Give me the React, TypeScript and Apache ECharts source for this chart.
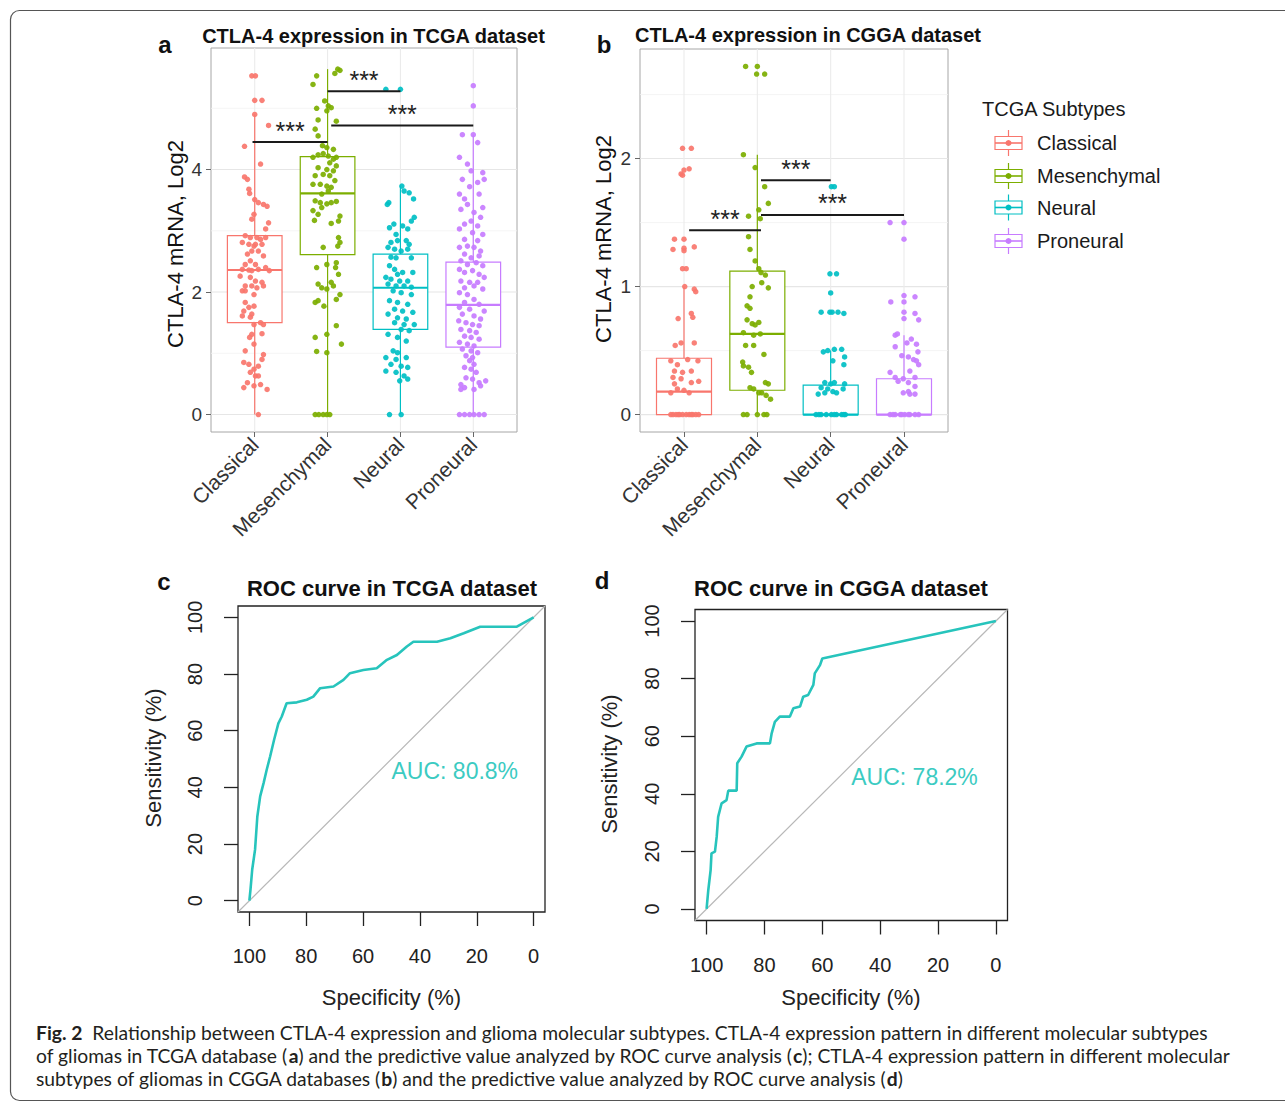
import React, { useEffect, useRef } from "react";
import * as echarts from "echarts";

const FONT = "'Liberation Sans', Arial, sans-serif";
const CAP_FONT = "Lato, 'Open Sans', sans-serif";

const subtypes = ["Classical", "Mesenchymal", "Neural", "Proneural"];
const subtypeColors = ["#F8766D", "#7CAE00", "#00BFC4", "#C77CFF"];
const catPositions = [1, 2, 3, 4];

// boxplot stats: [lower whisker, Q1, median, Q3, upper whisker]
const tcgaBoxStats = [
  [0, 1.5, 2.36, 2.92, 4.9],
  [0, 2.61, 3.61, 4.21, 5.64],
  [0, 1.39, 2.07, 2.62, 3.74],
  [0, 1.1, 1.79, 2.49, 4.57],
];
const cggaBoxStats = [
  [0, 0, 0.18, 0.44, 1.0],
  [0, 0.19, 0.63, 1.12, 2.03],
  [0, 0, 0, 0.23, 0.5],
  [0, 0, 0, 0.28, 0.62],
];

// jittered points: [jitter offset (category units), value]
const tcgaClassical = [
  [-0.04, 5.53], [0.01, 5.53], [0, 5.13], [0.1, 5.13], [0, 4.9], [0.19, 4.72], [-0.14, 4.38], [0.08, 4.09],
  [-0.14, 3.88], [-0.1, 3.84], [-0.08, 3.68], [-0.07, 3.61], [0, 3.51], [0.05, 3.46], [0.12, 3.43], [0.17, 3.4],
  [-0.01, 3.27], [-0.04, 3.19], [0.19, 3.13], [0.15, 3.03], [-0.13, 2.92], [-0.06, 2.89], [0.03, 2.89], [0.08, 2.86], [0.15, 2.89],
  [-0.17, 2.81], [-0.08, 2.78], [-0.01, 2.75], [0.01, 2.78], [0.1, 2.78], [-0.04, 2.67], [-0.1, 2.62], [0.05, 2.67],
  [-0.06, 2.51], [0.12, 2.59], [-0.13, 2.45], [0.01, 2.45], [-0.17, 2.37], [-0.08, 2.36], [-0.04, 2.35], [0.05, 2.37], [0.15, 2.4], [0.2, 2.35],
  [-0.2, 2.26], [-0.06, 2.24], [0.01, 2.18], [0.1, 2.16], [0.12, 2.1], [-0.13, 2.1], [-0.04, 2.1], [0.03, 2.07], [-0.17, 2.02], [-0.13, 2.02], [-0.01, 1.96],
  [-0.13, 1.83], [-0.08, 1.75], [-0.01, 1.77], [-0.15, 1.69], [-0.04, 1.64], [-0.17, 1.61], [-0.06, 1.59],
  [0.08, 1.5], [0.12, 1.47], [-0.01, 1.47], [-0.04, 1.31], [0.1, 1.32], [-0.07, 1.26], [-0.01, 1.15], [-0.13, 1.04], [0.12, 0.98], [0.1, 0.9],
  [-0.15, 0.85], [-0.08, 0.82], [0.05, 0.79], [-0.01, 0.74], [-0.06, 0.69], [0.01, 0.63], [0.05, 0.63], [-0.1, 0.52], [-0.15, 0.44], [-0.01, 0.47], [0.08, 0.49], [0.17, 0.41], [0.05, 0],
];
const tcgaMesenchymal = [
  [0.14, 5.64], [0.17, 5.62], [0.1, 5.57], [-0.15, 5.53], [-0.2, 5.39], [-0.04, 5.12], [0.01, 5.04], [0.05, 5.01], [-0.15, 5.0], [-0.01, 4.96],
  [-0.13, 4.81], [0.12, 4.79], [-0.17, 4.66], [-0.13, 4.55], [-0.07, 4.39], [-0.01, 4.36], [0.08, 4.33], [-0.2, 4.2], [-0.13, 4.24], [-0.06, 4.26], [0.01, 4.22], [0.08, 4.17], [0.12, 4.2],
  [0.03, 4.11], [0.12, 4.06], [-0.13, 4.03], [-0.01, 4.0], [0.08, 3.98], [-0.06, 3.92], [0.03, 3.9], [-0.17, 3.9], [-0.2, 3.76], [-0.1, 3.76], [-0.01, 3.73], [0.05, 3.71], [0.1, 3.82], [0.01, 3.65], [-0.08, 3.6],
  [-0.17, 3.49], [-0.1, 3.46], [-0.01, 3.44], [0.05, 3.46], [0.12, 3.48], [-0.08, 3.38], [-0.2, 3.33], [-0.13, 3.27], [-0.18, 3.17], [0.15, 3.16], [0.17, 3.24], [0.05, 3.12],
  [0.15, 2.89], [0.17, 2.81], [-0.06, 2.73], [0.14, 2.75], [0.12, 2.48], [0.11, 2.4], [0.15, 2.29], [-0.15, 2.4], [-0.01, 2.45],
  [-0.13, 2.13], [-0.08, 2.07], [-0.01, 2.05], [0.08, 2.1], [0.05, 2.16], [0.17, 1.96], [0.12, 1.88], [-0.17, 1.83], [-0.13, 1.86], [-0.05, 1.77],
  [0.12, 1.45], [-0.01, 1.31], [-0.17, 1.26], [0.19, 1.15], [-0.15, 1.03], [-0.01, 1.01],
  [-0.17, 0], [-0.12, 0], [-0.06, 0], [-0.01, 0], [0.03, 0],
];
const tcgaNeural = [
  [-0.2, 5.31], [0, 5.31], [0.02, 3.73], [0.05, 3.65], [0.12, 3.62], [0.18, 3.52], [-0.16, 3.46], [-0.18, 3.43],
  [0.19, 3.22], [0.15, 3.16], [0.03, 3.08], [-0.09, 3.11], [-0.15, 3.05], [0.1, 3.03], [-0.06, 2.94], [-0.13, 2.81], [-0.04, 2.84], [0.08, 2.84], [0.12, 2.78],
  [-0.17, 2.73], [-0.08, 2.7], [0.01, 2.67], [0.1, 2.7], [-0.13, 2.57], [-0.06, 2.56], [0.15, 2.56],
  [-0.15, 2.43], [-0.08, 2.37], [-0.04, 2.29], [0.03, 2.32], [0.17, 2.32], [-0.2, 2.24], [-0.13, 2.21], [-0.01, 2.18], [0.1, 2.18], [-0.17, 2.13], [-0.06, 2.1], [0.05, 2.1], [0.15, 2.08], [-0.1, 2.02], [0.01, 1.99], [0.15, 1.96],
  [-0.15, 1.86], [-0.04, 1.83], [0.1, 1.8], [-0.08, 1.72], [0.03, 1.69], [0.17, 1.67], [-0.17, 1.64], [-0.04, 1.58], [0.08, 1.56], [-0.08, 1.5], [0.05, 1.47], [0.19, 1.47], [0.01, 1.39], [0.12, 1.37], [-0.17, 1.31], [-0.04, 1.26], [0.08, 1.2],
  [-0.1, 1.04], [-0.04, 1.01], [-0.2, 0.93], [-0.06, 0.9], [0.08, 0.93], [-0.13, 0.82], [0.01, 0.79], [0.1, 0.77], [-0.2, 0.71], [-0.06, 0.69], [0.05, 0.63], [0.1, 0.58], [-0.01, 0.55],
  [-0.15, 0], [0.01, 0],
];
const tcgaProneural = [
  [0, 5.37], [0, 5.04], [-0.15, 4.57], [0, 4.57], [0.06, 4.44], [-0.19, 4.2], [-0.08, 4.09], [-0.03, 3.98], [0.13, 3.95], [-0.15, 3.84], [0.15, 3.84], [0.06, 3.79], [-0.05, 3.72],
  [-0.19, 3.6], [-0.12, 3.52], [0.08, 3.6], [-0.08, 3.43], [-0.17, 3.35], [0.13, 3.38], [0.01, 3.3], [0.1, 3.22], [-0.03, 3.16], [-0.12, 3.11], [0.06, 3.08], [-0.19, 3.03],
  [-0.01, 2.97], [0.13, 2.94], [-0.12, 2.86], [0.06, 2.84], [-0.08, 2.75], [-0.19, 2.73], [0.01, 2.73], [0.1, 2.67], [-0.12, 2.62], [-0.03, 2.56], [0.08, 2.59], [-0.17, 2.51],
  [-0.08, 2.45], [0.04, 2.48], [0.13, 2.43], [-0.19, 2.37], [-0.12, 2.32], [-0.01, 2.35], [0.08, 2.29], [0.15, 2.24], [-0.17, 2.18], [-0.05, 2.16], [0.06, 2.16], [-0.12, 2.07],
  [0.01, 2.1], [0.13, 2.05], [-0.19, 1.99], [-0.08, 1.96], [0.01, 1.88], [-0.12, 1.83], [0.08, 1.8], [-0.19, 1.75], [-0.05, 1.72], [0.15, 1.69], [-0.15, 1.64], [0.01, 1.61],
  [0.1, 1.56], [-0.2, 1.53], [-0.1, 1.5], [-0.01, 1.47], [0.08, 1.45], [-0.17, 1.39], [-0.05, 1.37], [0.04, 1.34], [-0.12, 1.28], [-0.03, 1.26], [0.08, 1.23], [-0.19, 1.18],
  [-0.08, 1.15], [0.01, 1.12], [-0.15, 1.07], [-0.03, 1.04], [0.06, 1.01], [-0.1, 0.96], [-0.01, 0.93], [-0.05, 0.88], [0.01, 0.82], [-0.12, 0.77], [-0.03, 0.74], [0.04, 0.69],
  [-0.1, 0.6], [-0.01, 0.58], [-0.17, 0.49], [-0.12, 0.44], [0.08, 0.52], [0.17, 0.55], [0.1, 0.47], [0.01, 0.41], [-0.17, 0.41],
  [-0.19, 0], [-0.12, 0], [-0.05, 0], [0.01, 0], [0.08, 0], [0.15, 0],
];

const cggaClassical = [
  [-0.02, 2.08], [0.1, 2.08], [-0.04, 1.88], [0, 1.91], [0.07, 1.92], [-0.02, 1.87], [-0.13, 1.37], [0, 1.37], [-0.15, 1.29], [0, 1.3], [0.14, 1.31], [0, 1.28],
  [-0.02, 1.14], [0.03, 1.14], [0.01, 1.0], [0.14, 0.98], [0.16, 0.96], [-0.08, 0.75], [0.1, 0.79], [0.12, 0.76], [-0.12, 0.54], [-0.04, 0.56], [0.14, 0.56],
  [-0.18, 0.42], [-0.09, 0.39], [0.05, 0.43], [0.19, 0.42], [-0.13, 0.34], [-0.02, 0.33], [0.1, 0.34], [-0.15, 0.29], [-0.04, 0.28], [0.1, 0.25], [0.2, 0.26],
  [-0.13, 0.24], [-0.09, 0.2], [0, 0.19], [0.07, 0.17], [-0.18, 0.17],
  [-0.15, 0], [-0.11, 0], [-0.06, 0], [-0.02, 0], [0.03, 0], [0.07, 0], [0.12, 0], [0.16, 0], [0.2, 0], [-0.18, 0], [-0.08, 0], [0.1, 0],
];
const cggaMesenchymal = [
  [-0.16, 2.72], [0, 2.72], [-0.01, 2.66], [0.1, 2.66], [-0.19, 2.03], [-0.03, 1.93], [0.1, 1.78], [0.15, 1.65], [-0.12, 1.55], [0.02, 1.6], [0.04, 1.53],
  [-0.12, 1.39], [-0.1, 1.29], [-0.03, 1.2], [0.02, 1.14], [0.05, 1.11], [0.11, 1.09], [0.06, 1.03], [0.15, 0.99], [-0.07, 1.0],
  [-0.1, 0.92], [-0.14, 0.85], [-0.1, 0.83], [-0.14, 0.74], [-0.07, 0.71], [0.02, 0.72], [-0.03, 0.7], [-0.19, 0.64], [-0.05, 0.62], [0.04, 0.63],
  [-0.16, 0.54], [-0.05, 0.54], [0.09, 0.47], [-0.2, 0.41], [-0.19, 0.38], [-0.12, 0.37], [-0.08, 0.33],
  [-0.1, 0.21], [-0.05, 0.2], [0.11, 0.25], [0.15, 0.24], [0.06, 0.17], [0.02, 0.17], [0.18, 0.12], [0.12, 0.15],
  [-0.19, 0], [-0.14, 0], [0, 0], [0.09, 0], [0.13, 0],
];
const cggaNeural = [
  [0.01, 1.78], [0.05, 1.78], [-0.01, 1.1], [0.08, 1.1], [0, 0.95], [-0.13, 0.8], [-0.01, 0.8], [0.02, 0.8], [0.1, 0.8], [0.18, 0.79],
  [-0.1, 0.49], [-0.04, 0.5], [0.05, 0.51], [0.15, 0.51], [0.03, 0.42], [0.19, 0.45], [0.18, 0.39],
  [-0.08, 0.25], [0, 0.24], [0.05, 0.25], [0.19, 0.24], [-0.13, 0.21], [-0.04, 0.2], [0.03, 0.18], [-0.17, 0.16], [-0.08, 0.17], [0.17, 0.2], [0.08, 0.17],
  [-0.2, 0], [-0.13, 0], [-0.06, 0], [0.01, 0], [0.08, 0], [0.15, 0], [0.2, 0], [-0.16, 0], [0.05, 0], [0.18, 0],
];
const cggaProneural = [
  [-0.19, 1.5], [0, 1.5], [0, 1.37], [-0.18, 0.88], [0, 0.93], [0.15, 0.92], [0, 0.88], [0, 0.8], [0.15, 0.79], [0, 0.75], [0.2, 0.74],
  [-0.12, 0.62], [-0.09, 0.63], [0.04, 0.56], [0.1, 0.59], [-0.12, 0.53], [0.17, 0.55], [-0.03, 0.46], [0.06, 0.45], [0.13, 0.43], [0.17, 0.42], [0.2, 0.39], [0.19, 0.49],
  [0.08, 0.34], [-0.19, 0.33], [-0.12, 0.29], [-0.01, 0.28], [-0.08, 0.26], [0.15, 0.29], [0.06, 0.25], [0.15, 0.22], [-0.01, 0.17], [0.08, 0.16], [0.15, 0.16], [0.06, 0.18],
  [-0.19, 0], [-0.12, 0], [-0.05, 0], [0.01, 0], [0.08, 0], [0.15, 0], [0.2, 0], [-0.15, 0], [0.06, 0], [-0.03, 0],
];

const tcgaPoints = [tcgaClassical, tcgaMesenchymal, tcgaNeural, tcgaProneural];
const cggaPoints = [cggaClassical, cggaMesenchymal, cggaNeural, cggaProneural];

// significance brackets: [from category, to category, height]
const tcgaBrackets = [[0.97, 2, 4.45], [2, 3, 5.28], [2.05, 4, 4.72]];
const cggaBrackets = [[1.07, 2.05, 1.44], [2.05, 3, 1.83], [2.05, 4, 1.56]];
const sigLabel = "***";

const tcgaMajorY = [0, 2, 4];
const tcgaMinorY = [1, 3, 5];
const cggaMajorY = [0, 1, 2];
const cggaMinorY = [0.5, 1.5, 2.5];
const tcgaYRange = [-0.285, 5.985];
const cggaYRange = [-0.136, 2.856];

const rocTicks = [0, 20, 40, 60, 80, 100];
const rocTcgaSpec = [100, 99.6, 99, 98, 97.2, 96.2, 95, 93.9, 92.7, 91.3, 89.8, 88.6, 86.9, 83.3, 79.8, 77.5, 75.1, 70.4, 66.9, 64.6, 59.9, 55.2, 51.6, 48.1, 44.6, 42.3, 34, 29.3, 24.6, 18.8, 5.9, 0];
const rocTcgaSens = [0, 4, 11, 18, 29.7, 36.8, 41.5, 46.2, 50.9, 56.8, 62.6, 65, 69.7, 70, 70.9, 72, 75, 75.6, 77.9, 80.3, 81.4, 82, 85, 86.7, 89.7, 91.4, 91.4, 92.6, 94.4, 96.7, 96.7, 100];
const rocCggaSpec = [100, 99.4, 98.6, 98.3, 97.1, 96.5, 96, 94.8, 93.1, 92.5, 89.6, 89.4, 87.9, 86.2, 82.7, 78.1, 77.5, 76.4, 74.7, 71.2, 70, 67.7, 66.6, 64.9, 63.1, 62.6, 60.8, 60, 0];
const rocCggaSens = [0, 6.6, 13.5, 19.3, 19.9, 25.1, 32, 36.7, 37.8, 41.1, 41.1, 50.6, 52.9, 56.4, 57.5, 57.5, 61, 65, 66.8, 66.8, 69.7, 70.3, 73.7, 74.3, 77.8, 81.8, 84.7, 87, 100];
const aucTcga = "AUC: 80.8%";
const aucCgga = "AUC: 78.2%";
const aucAnchor = [50, 50];

const captionLines = [
  "{b|Fig. 2}  Relationship between CTLA-4 expression and glioma molecular subtypes. CTLA-4 expression pattern in different molecular subtypes",
  "of gliomas in TCGA database ({b|a}) and the predictive value analyzed by ROC curve analysis ({b|c}); CTLA-4 expression pattern in different molecular",
  "subtypes of gliomas in CGGA databases ({b|b}) and the predictive value analyzed by ROC curve analysis ({b|d})",
];

function txt(text: string, x: number, y: number, o: any = {}) {
  const align = o.align || "center";
  const va = o.va || "middle";
  return {
    type: "text",
    x,
    y,
    rotation: o.rotation || 0,
    silent: true,
    style: {
      text,
      fill: o.color || "#111",
      fontSize: o.size || 20,
      fontFamily: o.family || FONT,
      fontWeight: o.weight || "normal",
      align,
      textAlign: align,
      verticalAlign: va,
      textVerticalAlign: va,
      rich: o.rich,
    },
  };
}

function boxPanel(gi: number, stats: number[][], points: number[][][], brackets: number[][], majorY: number[], minorY: number[]) {
  const series: any[] = [];
  const gridData = [
    ...minorY.map((v) => [v, 0, 0]),
    ...majorY.map((v) => [v, 1, 0]),
    ...catPositions.map((v) => [v, 1, 1]),
  ];
  series.push({
    type: "custom",
    xAxisIndex: gi,
    yAxisIndex: gi,
    silent: true,
    z: 1,
    data: gridData,
    renderItem: (params: any, api: any) => {
      const cs = params.coordSys;
      const v = api.value(0);
      const major = api.value(1);
      const vertical = api.value(2);
      if (vertical) {
        const x = api.coord([v, 0])[0];
        return { type: "line", shape: { x1: x, y1: cs.y, x2: x, y2: cs.y + cs.height }, style: { stroke: "#ebebeb", lineWidth: 1.1 } };
      }
      const y = api.coord([1, v])[1];
      return {
        type: "line",
        shape: { x1: cs.x, y1: y, x2: cs.x + cs.width, y2: y },
        style: { stroke: major ? "#e6e6e6" : "#f3f3f3", lineWidth: major ? 1.1 : 0.8 },
      };
    },
  });
  series.push({
    type: "custom",
    xAxisIndex: gi,
    yAxisIndex: gi,
    silent: true,
    z: 2,
    data: stats.map((s, i) => [catPositions[i], ...s]),
    renderItem: (params: any, api: any) => {
      const color = subtypeColors[params.dataIndex];
      const cat = api.value(0);
      const cx = api.coord([cat, 0])[0];
      const yLo = api.coord([cat, api.value(1)])[1];
      const yQ1 = api.coord([cat, api.value(2)])[1];
      const yMed = api.coord([cat, api.value(3)])[1];
      const yQ3 = api.coord([cat, api.value(4)])[1];
      const yHi = api.coord([cat, api.value(5)])[1];
      const hw = api.size([0.75, 0])[0] / 2;
      return {
        type: "group",
        children: [
          { type: "line", shape: { x1: cx, y1: yLo, x2: cx, y2: yQ1 }, style: { stroke: color, lineWidth: 1.2 } },
          { type: "line", shape: { x1: cx, y1: yQ3, x2: cx, y2: yHi }, style: { stroke: color, lineWidth: 1.2 } },
          { type: "rect", shape: { x: cx - hw, y: yQ3, width: 2 * hw, height: Math.max(yQ1 - yQ3, 0.5) }, style: { fill: "#fff", stroke: color, lineWidth: 1.2 } },
          { type: "line", shape: { x1: cx - hw, y1: yMed, x2: cx + hw, y2: yMed }, style: { stroke: color, lineWidth: 2.2 } },
        ],
      };
    },
  });
  points.forEach((pts, i) => {
    series.push({
      type: "scatter",
      xAxisIndex: gi,
      yAxisIndex: gi,
      silent: true,
      z: 3,
      symbolSize: 5.5,
      itemStyle: { color: subtypeColors[i], opacity: 0.92 },
      data: pts.map(([dx, y]) => [catPositions[i] + dx, y]),
    });
  });
  series.push({
    type: "custom",
    xAxisIndex: gi,
    yAxisIndex: gi,
    silent: true,
    z: 4,
    data: brackets,
    renderItem: (params: any, api: any) => {
      const p1 = api.coord([api.value(0), api.value(2)]);
      const p2 = api.coord([api.value(1), api.value(2)]);
      return {
        type: "group",
        children: [
          { type: "line", shape: { x1: p1[0], y1: p1[1], x2: p2[0], y2: p2[1] }, style: { stroke: "#1a1a1a", lineWidth: 2 } },
          {
            type: "text",
            x: (p1[0] + p2[0]) / 2,
            y: p1[1] + 1,
            style: { text: sigLabel, fill: "#222", fontSize: 25, fontFamily: FONT, align: "center", verticalAlign: "bottom" },
          },
        ],
      };
    },
  });
  return series;
}

function boxAxes(gi: number, yRange: number[], yTicks: number[]) {
  const x = {
    type: "value",
    gridIndex: gi,
    min: 0.4,
    max: 4.6,
    axisLine: { show: false, onZero: false },
    splitLine: { show: false },
    axisTick: { show: true, customValues: catPositions, length: 5, lineStyle: { color: "#666" } },
    axisLabel: {
      customValues: catPositions,
      formatter: (v: number) => subtypes[Math.round(v) - 1] || "",
      rotate: 45,
      fontSize: 21,
      color: "#333",
      fontFamily: FONT,
      margin: 9,
    },
  };
  const y = {
    type: "value",
    gridIndex: gi,
    min: yRange[0],
    max: yRange[1],
    axisLine: { show: false, onZero: false },
    splitLine: { show: false },
    axisTick: { show: true, customValues: yTicks, length: 5, lineStyle: { color: "#666" } },
    axisLabel: { customValues: yTicks, fontSize: 19, color: "#333", fontFamily: FONT, margin: 9 },
  };
  return { x, y };
}

function rocAxes(gi: number) {
  const x = {
    type: "value",
    gridIndex: gi,
    position: "bottom",
    min: -4,
    max: 104,
    inverse: true,
    axisLine: { show: false, onZero: false },
    splitLine: { show: false },
    axisTick: { show: true, customValues: rocTicks, length: 14, lineStyle: { color: "#222", width: 1.3 } },
    axisLabel: { customValues: rocTicks, fontSize: 20, color: "#222", fontFamily: FONT, margin: 34 },
  };
  const y = {
    type: "value",
    gridIndex: gi,
    position: "left",
    min: -4,
    max: 104,
    axisLine: { show: false, onZero: false },
    splitLine: { show: false },
    axisTick: { show: true, customValues: rocTicks, length: 14, lineStyle: { color: "#222", width: 1.3 } },
    axisLabel: { customValues: rocTicks, fontSize: 20, color: "#222", fontFamily: FONT, margin: 33, rotate: 90 },
  };
  return { x, y };
}

function rocPanel(gi: number, spec: number[], sens: number[], auc: string) {
  return [
    {
      type: "line",
      xAxisIndex: gi,
      yAxisIndex: gi,
      silent: true,
      z: 2,
      symbol: "none",
      data: [[104, -4], [-4, 104]],
      lineStyle: { color: "#b8b8b8", width: 1.2 },
    },
    {
      type: "line",
      xAxisIndex: gi,
      yAxisIndex: gi,
      silent: true,
      z: 3,
      symbol: "none",
      data: spec.map((s, i) => [s, sens[i]]),
      lineStyle: { color: "#27C4BC", width: 2.6 },
    },
    {
      type: "custom",
      xAxisIndex: gi,
      yAxisIndex: gi,
      silent: true,
      z: 4,
      data: [aucAnchor],
      renderItem: (params: any, api: any) => {
        const p = api.coord([api.value(0), api.value(1)]);
        return {
          type: "text",
          x: p[0],
          y: p[1],
          style: { text: auc, fill: "#3CCBC2", fontSize: 23, fontFamily: FONT, align: "left", verticalAlign: "top" },
        };
      },
    },
  ];
}

function legendGraphics() {
  const items: any[] = [txt("TCGA Subtypes", 982, 109, { align: "left", size: 20, color: "#1a1a1a" })];
  const ys = [143, 176, 207.5, 241];
  subtypes.forEach((name, i) => {
    const y = ys[i];
    const c = subtypeColors[i];
    items.push({ type: "line", silent: true, shape: { x1: 1008.5, y1: y - 13, x2: 1008.5, y2: y + 13 }, style: { stroke: c, lineWidth: 1.2 } });
    items.push({ type: "rect", silent: true, shape: { x: 995, y: y - 6.5, width: 27, height: 13 }, style: { fill: "#fff", stroke: c, lineWidth: 1.2 } });
    items.push({ type: "line", silent: true, shape: { x1: 995, y1: y, x2: 1022, y2: y }, style: { stroke: c, lineWidth: 1.6 } });
    items.push({ type: "circle", silent: true, shape: { cx: 1008.5, cy: y, r: 3 }, style: { fill: c } });
    items.push(txt(name, 1037, y, { align: "left", size: 20, color: "#1a1a1a" }));
  });
  return items;
}

export default function App() {
  const ref = useRef<HTMLDivElement>(null);
  useEffect(() => {
    if (!ref.current) return;
    const chart = echarts.init(ref.current, null, { renderer: "svg" });
    const aAx = boxAxes(0, tcgaYRange, tcgaMajorY);
    const bAx = boxAxes(1, cggaYRange, cggaMajorY);
    const cAx = rocAxes(2);
    const dAx = rocAxes(3);
    const boxGrid = { show: true, borderColor: "#a6a6a6", borderWidth: 1, backgroundColor: "#fff", containLabel: false };
    const rocGrid = { show: true, borderColor: "#222", borderWidth: 1.3, backgroundColor: "#fff", containLabel: false };
    const capSize = 19.3;
    const capRich = {
      b: { fontWeight: "bold", fontFamily: CAP_FONT, fontSize: capSize, fill: "#231f20", color: "#231f20" },
    };
    const option: any = {
      animation: false,
      backgroundColor: "#fff",
      grid: [
        { ...boxGrid, left: 211, top: 48, width: 306, height: 384 },
        { ...boxGrid, left: 640, top: 49, width: 308, height: 383 },
        { ...rocGrid, left: 238, top: 606, width: 307, height: 306 },
        { ...rocGrid, left: 695, top: 609.5, width: 312.5, height: 311 },
      ],
      xAxis: [aAx.x, bAx.x, cAx.x, dAx.x],
      yAxis: [aAx.y, bAx.y, cAx.y, dAx.y],
      series: [
        ...boxPanel(0, tcgaBoxStats, tcgaPoints, tcgaBrackets, tcgaMajorY, tcgaMinorY),
        ...boxPanel(1, cggaBoxStats, cggaPoints, cggaBrackets, cggaMajorY, cggaMinorY),
        ...rocPanel(2, rocTcgaSpec, rocTcgaSens, aucTcga),
        ...rocPanel(3, rocCggaSpec, rocCggaSens, aucCgga),
      ],
      graphic: {
        elements: [
          {
            type: "rect",
            silent: true,
            z: -10,
            shape: { x: 10.5, y: 10.5, width: 1300, height: 1090, r: 9 },
            style: { fill: "none", stroke: "#555", lineWidth: 1.2 },
          },
          txt("a", 165, 44, { size: 24, weight: "bold" }),
          txt("b", 604, 44, { size: 24, weight: "bold" }),
          txt("c", 164, 581, { size: 24, weight: "bold" }),
          txt("d", 602, 580, { size: 24, weight: "bold" }),
          txt("CTLA-4 expression in TCGA dataset", 373.5, 36, { size: 20, weight: "bold" }),
          txt("CTLA-4 expression in CGGA dataset", 808, 35, { size: 20, weight: "bold" }),
          txt("ROC curve in TCGA dataset", 392, 588, { size: 22, weight: "bold" }),
          txt("ROC curve in CGGA dataset", 841, 588, { size: 22, weight: "bold" }),
          txt("CTLA-4 mRNA, Log2", 175, 244, { size: 22, rotation: Math.PI / 2, color: "#111" }),
          txt("CTLA-4 mRNA, Log2", 603, 239, { size: 22, rotation: Math.PI / 2, color: "#111" }),
          txt("Sensitivity (%)", 153, 758, { size: 22, rotation: Math.PI / 2, color: "#222" }),
          txt("Sensitivity (%)", 609, 764, { size: 22, rotation: Math.PI / 2, color: "#222" }),
          txt("Specificity (%)", 391.5, 997, { size: 22, color: "#222" }),
          txt("Specificity (%)", 851, 997, { size: 22, color: "#222" }),
          ...legendGraphics(),
          ...captionLines.map((line, i) =>
            txt(line, 36, 1032 + i * 23, { align: "left", size: capSize, family: CAP_FONT, color: "#231f20", rich: capRich })
          ),
        ],
      },
    };
    chart.setOption(option);
    return () => chart.dispose();
  }, []);
  return (
    <div
      ref={ref}
      style={{ position: "fixed", left: 0, top: 0, width: 1285, height: 1103, background: "#fff" }}
    />
  );
}
